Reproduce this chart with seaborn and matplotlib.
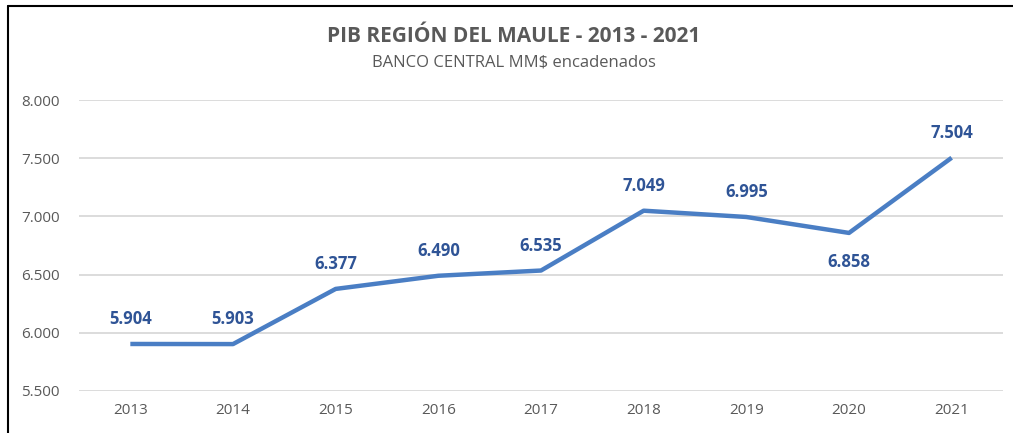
import matplotlib
matplotlib.use("Agg")
import matplotlib.pyplot as plt
import matplotlib.lines as mlines
import seaborn as sns
import pandas as pd

years = ["2013", "2014", "2015", "2016", "2017", "2018", "2019", "2020", "2021"]
pib = [5904, 5903, 6377, 6490, 6535, 7049, 6995, 6858, 7504]
yticks = [5500, 6000, 6500, 7000, 7500, 8000]

df = pd.DataFrame({"year": years, "pib": pib})

sns.set_style("white")
plt.rcParams["font.family"] = ["Open Sans", "DejaVu Sans"]

W, H = 1013, 433
fig = plt.figure(figsize=(W / 100, H / 100), dpi=100)
ax = fig.add_axes([79 / W, 1 - 391 / H, (1003 - 79) / W, (391 - 100) / H])

for t in yticks:
    ax.axhline(t, color="#d9d9d9", lw=1.3, zorder=0)

sns.lineplot(data=df, x="year", y="pib", ax=ax, color="#4a7ec4", lw=3.2,
             sort=False, solid_capstyle="butt", zorder=3)

def fmt(v):
    return f"{v:,.0f}".replace(",", ".")

for i, v in enumerate(pib):
    if years[i] == "2020":
        ax.annotate(fmt(v), (i, v), xytext=(0, -21), textcoords="offset points",
                    ha="center", va="center", fontsize=12, fontweight="bold", color="#2f5496")
    else:
        ax.annotate(fmt(v), (i, v), xytext=(0, 18), textcoords="offset points",
                    ha="center", va="center", fontsize=12, fontweight="bold", color="#2f5496")

ax.set_xlim(-0.5, len(years) - 0.5)
ax.set_ylim(5500, 8000)
ax.set_yticks(yticks)
ax.set_yticklabels([fmt(t) for t in yticks])
ax.tick_params(axis="both", length=0, labelsize=11, labelcolor="#595959")
ax.tick_params(axis="y", pad=14)
ax.tick_params(axis="x", pad=9)
ax.set_xlabel("")
ax.set_ylabel("")
for s in ax.spines.values():
    s.set_visible(False)
ax.set_clip_on(False)

fig.text(514 / W, 1 - 37 / H, "PIB REGIÓN DEL MAULE - 2013 - 2021", ha="center", va="center",
         fontsize=15, fontweight="bold", color="#595959")
fig.text(514 / W, 1 - 62 / H, "BANCO CENTRAL MM$ encadenados", ha="center", va="center",
         fontsize=12, color="#595959")

# frame of the screenshot (top and left edges)
fig.add_artist(mlines.Line2D([8 / W, 1], [1 - 6 / H, 1 - 6 / H], color="black", lw=1.5))
fig.add_artist(mlines.Line2D([8 / W, 8 / W], [0, 1 - 6 / H], color="black", lw=1.5))

fig.savefig("out.png", dpi=100, facecolor="white")
